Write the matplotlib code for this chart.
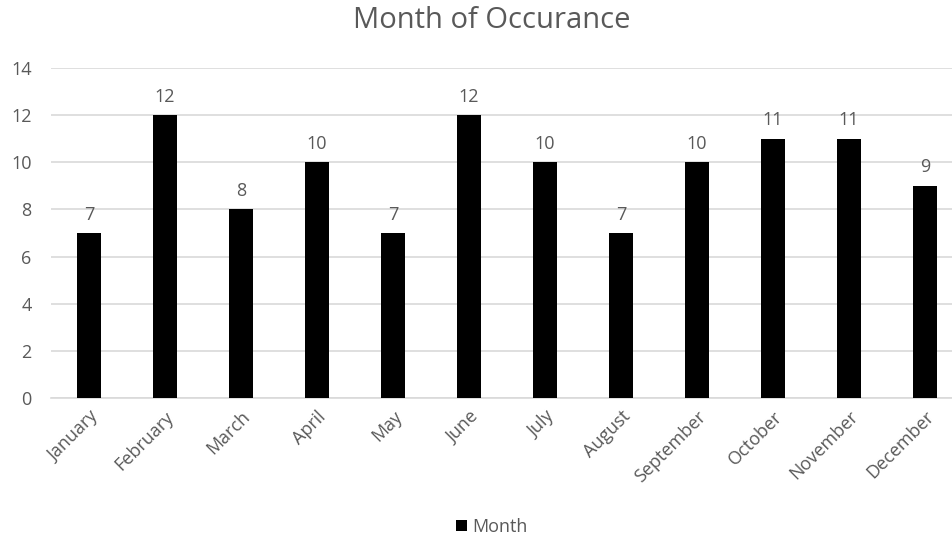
import matplotlib.pyplot as plt

# data
months = ['January', 'February', 'March', 'April', 'May', 'June', 'July',
          'August', 'September', 'October', 'November', 'December']
counts = [7, 12, 8, 10, 7, 12, 10, 7, 10, 11, 11, 9]
yticks = [0, 2, 4, 6, 8, 10, 12, 14]

textColor = '#595959'
gridColor = '#d9d9d9'

plt.rcParams['font.family'] = ['Open Sans', 'DejaVu Sans']

fig = plt.figure(figsize=(9.53, 5.4), dpi=100)
ax = fig.add_axes([51/953, 142/540, 912/953, 330/540])

x = list(range(len(months)))
bars = ax.bar(x, counts, width=0.32, color='black', label='Month', zorder=3)

# data labels
for xi, v in zip(x, counts):
    ax.text(xi, v + 0.4, str(v), ha='center', va='bottom', fontsize=13, color=textColor)

ax.set_xlim(-0.5, 11.5)
ax.set_ylim(0, 14)
ax.set_yticks(yticks)
ax.set_xticks(x)
ax.set_xticklabels(months, rotation=45, ha='right', rotation_mode='anchor')
ax.tick_params(axis='both', length=0, labelsize=13, colors=textColor)
ax.tick_params(axis='x', pad=7)
ax.tick_params(axis='y', pad=14)
ax.grid(axis='y', color=gridColor, linewidth=1.2, zorder=0)
for s in ['top', 'right', 'left']:
    ax.spines[s].set_visible(False)
ax.spines['bottom'].set_color(gridColor)
ax.spines['bottom'].set_linewidth(1.2)

fig.text(492/953, 1 - 21/540, 'Month of Occurance', ha='center', va='center',
         fontsize=21, color=textColor)

fig.legend(handles=[bars], labels=['Month'], loc='center', bbox_to_anchor=(492/953, 1 - 527/540),
           frameon=False, fontsize=13, labelcolor=textColor, handlelength=0.6,
           handleheight=0.6, handletextpad=0.3)

fig.savefig('out.png', dpi=100)
